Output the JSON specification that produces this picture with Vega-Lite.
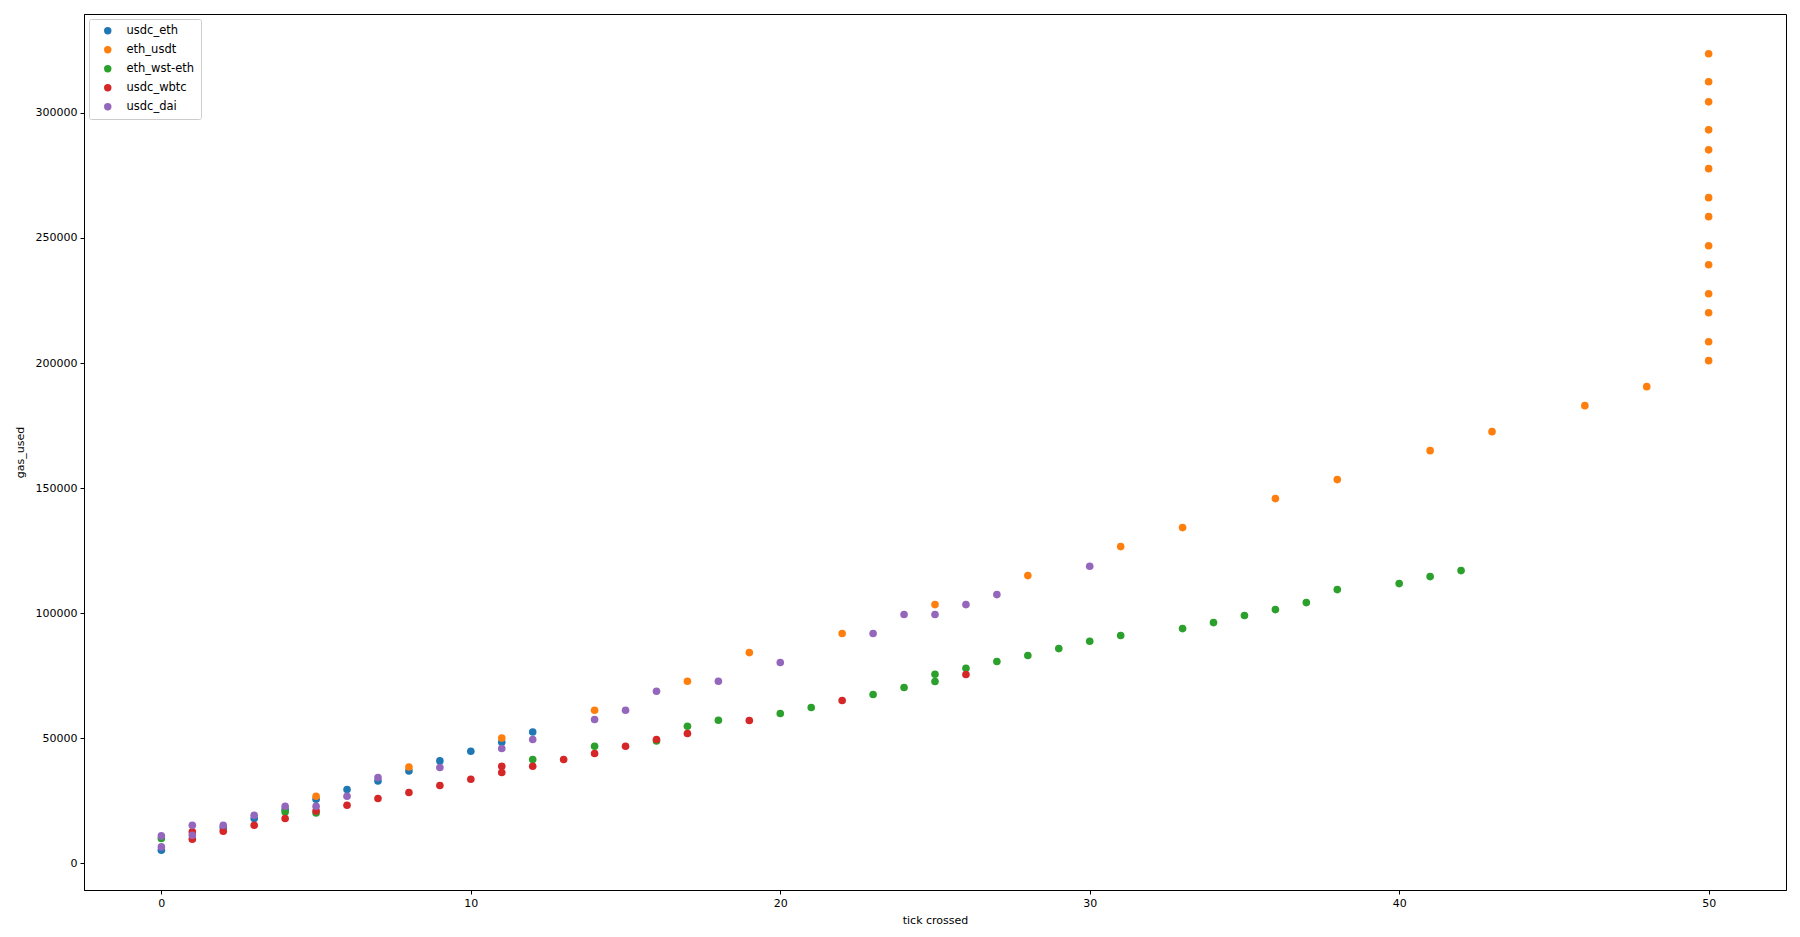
{
  "$schema": "https://vega.github.io/schema/vega-lite/v6.json",
  "autosize": {"type": "none"},
  "padding": {"left": 84, "top": 14, "right": 14, "bottom": 47},
  "width": 1702,
  "height": 876,
  "background": "white",
  "data": {
    "values": [
      {"pair": "usdc_eth", "tick": 0, "gas_used": 5300},
      {"pair": "usdc_eth", "tick": 2, "gas_used": 14300},
      {"pair": "usdc_eth", "tick": 3, "gas_used": 17980},
      {"pair": "usdc_eth", "tick": 4, "gas_used": 21570},
      {"pair": "usdc_eth", "tick": 5, "gas_used": 25690},
      {"pair": "usdc_eth", "tick": 6, "gas_used": 29560},
      {"pair": "usdc_eth", "tick": 7, "gas_used": 33000},
      {"pair": "usdc_eth", "tick": 8, "gas_used": 37000},
      {"pair": "usdc_eth", "tick": 9, "gas_used": 40990},
      {"pair": "usdc_eth", "tick": 10, "gas_used": 44860},
      {"pair": "usdc_eth", "tick": 11, "gas_used": 48460},
      {"pair": "usdc_eth", "tick": 12, "gas_used": 52520},

      {"pair": "eth_usdt", "tick": 5, "gas_used": 26890},
      {"pair": "eth_usdt", "tick": 8, "gas_used": 38550},
      {"pair": "eth_usdt", "tick": 11, "gas_used": 50100},
      {"pair": "eth_usdt", "tick": 14, "gas_used": 61240},
      {"pair": "eth_usdt", "tick": 17, "gas_used": 72830},
      {"pair": "eth_usdt", "tick": 19, "gas_used": 84290},
      {"pair": "eth_usdt", "tick": 22, "gas_used": 91890},
      {"pair": "eth_usdt", "tick": 25, "gas_used": 103470},
      {"pair": "eth_usdt", "tick": 28, "gas_used": 115060},
      {"pair": "eth_usdt", "tick": 31, "gas_used": 126640},
      {"pair": "eth_usdt", "tick": 33, "gas_used": 134230},
      {"pair": "eth_usdt", "tick": 36, "gas_used": 145820},
      {"pair": "eth_usdt", "tick": 38, "gas_used": 153410},
      {"pair": "eth_usdt", "tick": 41, "gas_used": 164990},
      {"pair": "eth_usdt", "tick": 43, "gas_used": 172580},
      {"pair": "eth_usdt", "tick": 46, "gas_used": 182970},
      {"pair": "eth_usdt", "tick": 48, "gas_used": 190560},
      {"pair": "eth_usdt", "tick": 50, "gas_used": 200950},
      {"pair": "eth_usdt", "tick": 50, "gas_used": 208500},
      {"pair": "eth_usdt", "tick": 50, "gas_used": 220100},
      {"pair": "eth_usdt", "tick": 50, "gas_used": 227700},
      {"pair": "eth_usdt", "tick": 50, "gas_used": 239300},
      {"pair": "eth_usdt", "tick": 50, "gas_used": 246900},
      {"pair": "eth_usdt", "tick": 50, "gas_used": 258500},
      {"pair": "eth_usdt", "tick": 50, "gas_used": 266100},
      {"pair": "eth_usdt", "tick": 50, "gas_used": 277700},
      {"pair": "eth_usdt", "tick": 50, "gas_used": 285200},
      {"pair": "eth_usdt", "tick": 50, "gas_used": 293200},
      {"pair": "eth_usdt", "tick": 50, "gas_used": 304400},
      {"pair": "eth_usdt", "tick": 50, "gas_used": 312400},
      {"pair": "eth_usdt", "tick": 50, "gas_used": 323600},

      {"pair": "eth_wst-eth", "tick": 0, "gas_used": 10000},
      {"pair": "eth_wst-eth", "tick": 4, "gas_used": 20620},
      {"pair": "eth_wst-eth", "tick": 5, "gas_used": 20220},
      {"pair": "eth_wst-eth", "tick": 12, "gas_used": 41550},
      {"pair": "eth_wst-eth", "tick": 14, "gas_used": 46860},
      {"pair": "eth_wst-eth", "tick": 16, "gas_used": 48980},
      {"pair": "eth_wst-eth", "tick": 17, "gas_used": 54850},
      {"pair": "eth_wst-eth", "tick": 18, "gas_used": 57250},
      {"pair": "eth_wst-eth", "tick": 20, "gas_used": 59930},
      {"pair": "eth_wst-eth", "tick": 21, "gas_used": 62320},
      {"pair": "eth_wst-eth", "tick": 23, "gas_used": 67520},
      {"pair": "eth_wst-eth", "tick": 24, "gas_used": 70310},
      {"pair": "eth_wst-eth", "tick": 25, "gas_used": 72710},
      {"pair": "eth_wst-eth", "tick": 25, "gas_used": 75630},
      {"pair": "eth_wst-eth", "tick": 26, "gas_used": 78020},
      {"pair": "eth_wst-eth", "tick": 27, "gas_used": 80700},
      {"pair": "eth_wst-eth", "tick": 28, "gas_used": 83100},
      {"pair": "eth_wst-eth", "tick": 29, "gas_used": 85890},
      {"pair": "eth_wst-eth", "tick": 30, "gas_used": 88810},
      {"pair": "eth_wst-eth", "tick": 31, "gas_used": 91090},
      {"pair": "eth_wst-eth", "tick": 33, "gas_used": 93880},
      {"pair": "eth_wst-eth", "tick": 34, "gas_used": 96280},
      {"pair": "eth_wst-eth", "tick": 35, "gas_used": 99080},
      {"pair": "eth_wst-eth", "tick": 36, "gas_used": 101470},
      {"pair": "eth_wst-eth", "tick": 37, "gas_used": 104270},
      {"pair": "eth_wst-eth", "tick": 38, "gas_used": 109460},
      {"pair": "eth_wst-eth", "tick": 40, "gas_used": 111860},
      {"pair": "eth_wst-eth", "tick": 41, "gas_used": 114660},
      {"pair": "eth_wst-eth", "tick": 42, "gas_used": 117050},

      {"pair": "usdc_wbtc", "tick": 1, "gas_used": 12630},
      {"pair": "usdc_wbtc", "tick": 1, "gas_used": 9710},
      {"pair": "usdc_wbtc", "tick": 2, "gas_used": 12900},
      {"pair": "usdc_wbtc", "tick": 3, "gas_used": 15300},
      {"pair": "usdc_wbtc", "tick": 4, "gas_used": 17980},
      {"pair": "usdc_wbtc", "tick": 5, "gas_used": 21010},
      {"pair": "usdc_wbtc", "tick": 6, "gas_used": 23290},
      {"pair": "usdc_wbtc", "tick": 7, "gas_used": 25970},
      {"pair": "usdc_wbtc", "tick": 8, "gas_used": 28360},
      {"pair": "usdc_wbtc", "tick": 9, "gas_used": 31160},
      {"pair": "usdc_wbtc", "tick": 10, "gas_used": 33680},
      {"pair": "usdc_wbtc", "tick": 11, "gas_used": 38870},
      {"pair": "usdc_wbtc", "tick": 11, "gas_used": 36350},
      {"pair": "usdc_wbtc", "tick": 12, "gas_used": 38870},
      {"pair": "usdc_wbtc", "tick": 13, "gas_used": 41550},
      {"pair": "usdc_wbtc", "tick": 14, "gas_used": 43950},
      {"pair": "usdc_wbtc", "tick": 15, "gas_used": 46860},
      {"pair": "usdc_wbtc", "tick": 16, "gas_used": 49540},
      {"pair": "usdc_wbtc", "tick": 17, "gas_used": 51930},
      {"pair": "usdc_wbtc", "tick": 19, "gas_used": 57130},
      {"pair": "usdc_wbtc", "tick": 22, "gas_used": 65120},
      {"pair": "usdc_wbtc", "tick": 26, "gas_used": 75500},

      {"pair": "usdc_dai", "tick": 0, "gas_used": 11030},
      {"pair": "usdc_dai", "tick": 0, "gas_used": 6630},
      {"pair": "usdc_dai", "tick": 1, "gas_used": 15300},
      {"pair": "usdc_dai", "tick": 1, "gas_used": 11300},
      {"pair": "usdc_dai", "tick": 2, "gas_used": 15300},
      {"pair": "usdc_dai", "tick": 3, "gas_used": 19300},
      {"pair": "usdc_dai", "tick": 4, "gas_used": 22890},
      {"pair": "usdc_dai", "tick": 5, "gas_used": 22890},
      {"pair": "usdc_dai", "tick": 6, "gas_used": 26890},
      {"pair": "usdc_dai", "tick": 7, "gas_used": 34350},
      {"pair": "usdc_dai", "tick": 9, "gas_used": 38350},
      {"pair": "usdc_dai", "tick": 11, "gas_used": 45940},
      {"pair": "usdc_dai", "tick": 12, "gas_used": 49540},
      {"pair": "usdc_dai", "tick": 14, "gas_used": 57530},
      {"pair": "usdc_dai", "tick": 15, "gas_used": 61240},
      {"pair": "usdc_dai", "tick": 16, "gas_used": 68830},
      {"pair": "usdc_dai", "tick": 18, "gas_used": 72830},
      {"pair": "usdc_dai", "tick": 20, "gas_used": 80300},
      {"pair": "usdc_dai", "tick": 23, "gas_used": 91890},
      {"pair": "usdc_dai", "tick": 24, "gas_used": 99480},
      {"pair": "usdc_dai", "tick": 25, "gas_used": 99480},
      {"pair": "usdc_dai", "tick": 26, "gas_used": 103470},
      {"pair": "usdc_dai", "tick": 27, "gas_used": 107460},
      {"pair": "usdc_dai", "tick": 30, "gas_used": 118770}
    ]
  },
  "mark": {"type": "point", "filled": true, "opacity": 1, "size": 58, "shape": "circle"},
  "encoding": {
    "x": {
      "field": "tick", "type": "quantitative", "title": "tick crossed",
      "scale": {"domain": [-2.5, 52.5], "nice": false, "zero": false},
      "axis": {"values": [0, 10, 20, 30, 40, 50], "format": "d", "grid": false, "titlePadding": 6}
    },
    "y": {
      "field": "gas_used", "type": "quantitative", "title": "gas_used",
      "scale": {"domain": [-10600, 339500], "nice": false, "zero": false},
      "axis": {"values": [0, 50000, 100000, 150000, 200000, 250000, 300000], "format": "d", "grid": false, "titlePadding": 10}
    },
    "color": {
      "field": "pair", "type": "nominal",
      "scale": {
        "domain": ["usdc_eth", "eth_usdt", "eth_wst-eth", "usdc_wbtc", "usdc_dai"],
        "range": ["#1f77b4", "#ff7f0e", "#2ca02c", "#d62728", "#9467bd"]
      },
      "legend": {
        "title": null,
        "orient": "none",
        "legendX": 5,
        "legendY": 5,
        "padding": 6,
        "symbolOffset": 7,
        "labelOffset": 13,
        "rowPadding": 6,
        "labelFontSize": 11.5,
        "symbolSize": 55,
        "symbolType": "circle",
        "strokeColor": "#cccccc",
        "fillColor": "white",
        "cornerRadius": 2
      }
    }
  },
  "config": {
    "font": "DejaVu Sans",
    "view": {"stroke": "black", "strokeWidth": 1},
    "axis": {
      "domainColor": "black",
      "tickColor": "black",
      "tickSize": 4,
      "labelColor": "black",
      "labelFontSize": 11,
      "labelPadding": 3,
      "titleColor": "black",
      "titleFontSize": 11,
      "titleFontWeight": "normal"
    },
    "legend": {"labelColor": "black", "labelFont": "DejaVu Sans"}
  }
}
